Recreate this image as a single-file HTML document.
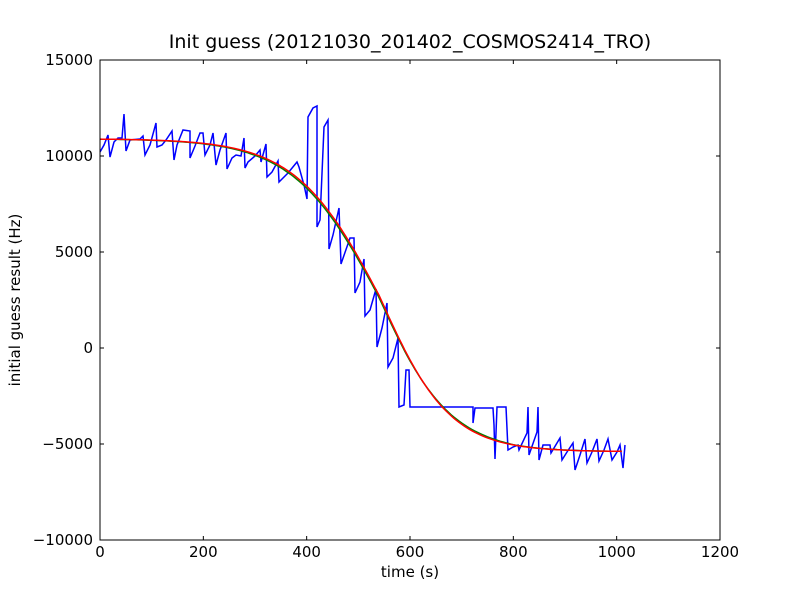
<!DOCTYPE html>
<html><head><meta charset="utf-8"><style>body{margin:0;background:#fff}text{font-family:"DejaVu Sans","Liberation Sans",sans-serif}</style></head>
<body>
<svg id="s" width="800" height="600" xmlns="http://www.w3.org/2000/svg">
<rect width="800" height="600" fill="#fff"/>
<text x="410" y="48" font-size="19" text-anchor="middle">Init guess (20121030_201402_COSMOS2414_TRO)</text>
<g id="ticks" stroke="#000" stroke-width="1"></g>
<g id="labels" font-size="15"></g>
<polyline id="blue" fill="none" stroke="#0000ff" stroke-width="1.5" points="100,152 104,145 108,135 110,157 114,142 118,138 122,138 124,114 126,151 130,140 140,139 143,136 145,155 150,145 156,123 157,147 162,145 166,140 172,131 174,160 177,145 183,130 190,131 190,158 195,146 200,133 203,133 205,155 210,145 213,133 216,165 220,150 226,133 227,169 232,158 236,155 241,156 244,138 245,168 248,162 255,156 260,150 261,162 266,144 267,177 272,172 278,161 279,182 288,173 297,162 299,167 304,185 307,199 308,117 313,108 317,106 317,227 320,220 324,127 328,120 329,249 333,235 339,208 341,264 350,238 354,238 355,293 360,282 364,259 365,316 370,310 376,289 377,347 382,328 387,303 388,367 393,358 398,338 399,407 404,405 406,370 409,370 410,407 473,407 473,423 475,408 483,408 493,408 494,425 495,459 497,407 506,407 508,450 513,447 518,445 519,450 527,433 528,407 529,455 537,432 538,407 539,460 543,445 550,445 551,453 560,438 562,460 567,452 573,443 575,470 580,455 585,439 587,463 592,452 597,439 599,461 604,450 608,439 612,460 617,452 620,445 623,468 625,445"/>
<polyline id="green" fill="none" stroke="#008000" stroke-width="1.5"/>
<polyline id="red" fill="none" stroke="#ff0000" stroke-width="1.5"/>
<rect x="100" y="60" width="620" height="480" fill="none" stroke="#000" stroke-width="1"/>
<text x="410" y="577" font-size="15" text-anchor="middle">time (s)</text>
<text transform="translate(20,300) rotate(-90)" font-size="15" text-anchor="middle">initial guess result (Hz)</text>
</svg>
<script>
var X=function(t){return 100+t*620/1200},Y=function(v){return 348-v*0.0192};
var tk=document.getElementById('ticks'),lb=document.getElementById('labels'),ns='http://www.w3.org/2000/svg';
function el(p,n,a,txt){var e=document.createElementNS(ns,n);for(var k in a)e.setAttribute(k,a[k]);if(txt!==undefined)e.textContent=txt;p.appendChild(e);}
for(var t=0;t<=1200;t+=200){var x=X(t);el(tk,'line',{x1:x,y1:540,x2:x,y2:536});el(tk,'line',{x1:x,y1:60,x2:x,y2:64});el(lb,'text',{x:x,y:557,'text-anchor':'middle'},String(t));}
for(var v=-10000;v<=15000;v+=5000){var y=Y(v);el(tk,'line',{x1:100,y1:y,x2:104,y2:y});el(tk,'line',{x1:720,y1:y,x2:716,y2:y});el(lb,'text',{x:93,y:y+5,'text-anchor':'end'},v<0?'\u2212'+(-v):String(v));}
function f(t,t0,w){var r=t<t0?w*1.25:w*1.05;return -5400+16300/(1+Math.exp((t-t0)/r));}
var rp=[],gp=[];
for(var t=0;t<=1010;t+=5){rp.push(X(t).toFixed(1)+','+Y(f(t,540,65)).toFixed(1));
var g=f(t,538,66);if(t>600&&t<800)g+= (t-600)*(800-t)/10000*60;gp.push(X(t).toFixed(1)+','+Y(g).toFixed(1));}
document.getElementById('red').setAttribute('points',rp.join(' '));
document.getElementById('green').setAttribute('points',gp.join(' '));
</script>
</body></html>
